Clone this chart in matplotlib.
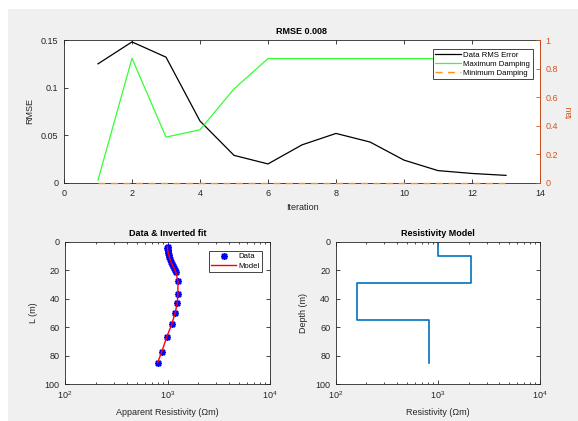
import numpy as np
import matplotlib
matplotlib.use('Agg')
import matplotlib.pyplot as plt
from matplotlib.patches import Rectangle

plt.rcParams['font.family'] = ['Liberation Sans', 'DejaVu Sans']
plt.rcParams['mathtext.fontset'] = 'custom'
plt.rcParams['mathtext.rm'] = 'Liberation Sans'

# top panel: convergence history
iteration = [1, 2, 3, 4, 5, 6, 7, 8, 9, 10, 11, 12, 13]
rms_error = [0.125, 0.148, 0.132, 0.065, 0.029, 0.020, 0.040, 0.052, 0.043, 0.024, 0.013, 0.010, 0.008]
max_damping = [0.02, 0.872, 0.321, 0.372, 0.658, 0.870, 0.870, 0.870, 0.870, 0.870, 0.870, 0.870, 0.870]
min_damping = [0, 0, 0, 0, 0, 0, 0, 0, 0, 0, 0, 0, 0]

# bottom left: apparent resistivity data and fit
data_depth = [3.5, 4.5, 5.5, 6.5, 8, 9.5, 11, 12.5, 14, 15.5, 17, 18.5, 20, 21,
              27.6, 36.8, 43.3, 50.3, 58.1, 67.2, 77.3, 85.0]
data_rho = [1000, 995, 1000, 1005, 1015, 1030, 1045, 1065, 1085, 1105, 1130, 1160, 1190, 1215,
            1274, 1256, 1250, 1183, 1099, 981, 877, 802]
model_depth = [3.5, 6, 10, 15, 21, 27.6, 36.8, 43.3, 50.3, 58.1, 67.2, 77.3, 85.0]
model_rho = [1000, 1003, 1035, 1090, 1200, 1265, 1262, 1245, 1185, 1098, 980, 880, 800]

# bottom right: layered resistivity model
layer_top = [0, 10, 29, 55]
layer_bottom = [10, 29, 55, 85]
layer_rho = [1000, 2090, 163, 818]

axcol = '#262626'
orange = '#D95319'
fs = 6.5

fig = plt.figure(figsize=(5.78, 4.21), dpi=100, facecolor='white')
fig.patches.append(Rectangle((8 / 578, 0), 1, 1 - 9 / 421, transform=fig.transFigure,
                             facecolor='#f0f0f0', edgecolor='none', zorder=-10))


def style(ax):
    ax.tick_params(direction='in', length=3, width=0.6, labelsize=fs, colors=axcol,
                   top=True, right=True, pad=4)
    ax.tick_params(which='minor', direction='in', length=1.5, width=0.5, top=True, right=True)
    for s in ax.spines.values():
        s.set_linewidth(0.6)
        s.set_color(axcol)


ax1 = fig.add_axes([64 / 578, 1 - 183 / 421, (540 - 64) / 578, 143 / 421])
ax1.plot(iteration, rms_error, color='black', lw=0.9, label='Data RMS Error')
ax1.set_xlim(0, 14)
ax1.set_ylim(0, 0.15)
ax1.set_xticks(range(0, 15, 2))
ax1.set_yticks([0, 0.05, 0.1, 0.15])
ax1.set_yticklabels(['0', '0.05', '0.1', '0.15'])
style(ax1)
ax1.tick_params(right=False)
ax1.set_xlabel('Iteration', fontsize=fs, color=axcol, labelpad=4)
ax1.set_ylabel('RMSE', fontsize=fs, color=axcol, labelpad=5)
ax1.set_title('RMSE 0.008', fontsize=fs, fontweight='bold', pad=4)

ax2 = ax1.twinx()
ax2.plot(iteration, max_damping, color='#33ff33', lw=0.9, label='Maximum Damping')
ax2.plot(iteration, min_damping, color='#ff9020', lw=1.0, ls=(0, (5, 4)),
         label='Minimum Damping', clip_on=False, zorder=5)
ax2.set_ylim(0, 1)
ax2.set_yticks([0, 0.2, 0.4, 0.6, 0.8, 1])
ax2.set_yticklabels(['0', '0.2', '0.4', '0.6', '0.8', '1'])
ax2.tick_params(direction='in', length=3, width=0.6, labelsize=fs, colors=orange, pad=4)
ax2.spines['right'].set_color(orange)
ax2.spines['right'].set_linewidth(0.6)
ax2.spines['left'].set_visible(False)
ax2.spines['top'].set_visible(False)
ax2.spines['bottom'].set_visible(False)
ax2.set_ylabel('tau', fontsize=fs, color=orange, labelpad=5)

h1, l1 = ax1.get_legend_handles_labels()
h2, l2 = ax2.get_legend_handles_labels()
leg = ax2.legend(h1 + h2, l1 + l2, loc='upper right', bbox_to_anchor=(532.5 / 578, 1 - 49 / 421),
                 bbox_transform=fig.transFigure, borderaxespad=0, fontsize=5.6,
                 handlelength=3.3, handletextpad=0.3, borderpad=0.3, labelspacing=0.2,
                 fancybox=False, framealpha=1, edgecolor=axcol)
leg.get_frame().set_linewidth(0.6)
leg.set_zorder(10)

ax3 = fig.add_axes([65 / 578, 1 - 384 / 421, 205 / 578, 142.3 / 421])
ax3.plot(data_rho, data_depth, ls='none', marker=(8, 2, 0), color='blue', ms=5, mew=1.1,
         label='Data')
ax3.plot(model_rho, model_depth, color='red', lw=1, label='Model')
ax3.set_xscale('log')
ax3.set_xlim(1e2, 1e4)
ax3.set_ylim(100, 0)
ax3.set_yticks(range(0, 101, 20))
style(ax3)
ax3.set_xlabel('Apparent Resistivity (\u03a9m)', fontsize=fs, color=axcol, labelpad=5)
ax3.set_ylabel('L (m)', fontsize=fs, color=axcol, labelpad=5)
ax3.set_title('Data & Inverted fit', fontsize=fs, fontweight='bold', pad=4)
leg3 = ax3.legend(loc='upper right', bbox_to_anchor=(262.3 / 578, 1 - 250.7 / 421),
                  bbox_transform=fig.transFigure, borderaxespad=0, fontsize=5.6,
                  handlelength=3.2, handletextpad=0.3, borderpad=0.3, labelspacing=0.25,
                  fancybox=False, framealpha=1, edgecolor=axcol)
leg3.get_frame().set_linewidth(0.6)

ax4 = fig.add_axes([335.7 / 578, 1 - 384 / 421, 204.3 / 578, 142.3 / 421])
step_x = []
step_y = []
for top, bot, rho in zip(layer_top, layer_bottom, layer_rho):
    step_x += [rho, rho]
    step_y += [top, bot]
ax4.plot(step_x, step_y, color='#0072BD', lw=1.2)
ax4.set_xscale('log')
ax4.set_xlim(1e2, 1e4)
ax4.set_ylim(100, 0)
ax4.set_yticks(range(0, 101, 20))
style(ax4)
ax4.set_xlabel('Resistivity (\u03a9m)', fontsize=fs, color=axcol, labelpad=5)
ax4.set_ylabel('Depth (m)', fontsize=fs, color=axcol, labelpad=5)
ax4.set_title('Resistivity Model', fontsize=fs, fontweight='bold', pad=4)

fig.savefig('out.png', dpi=100, facecolor=fig.get_facecolor())
